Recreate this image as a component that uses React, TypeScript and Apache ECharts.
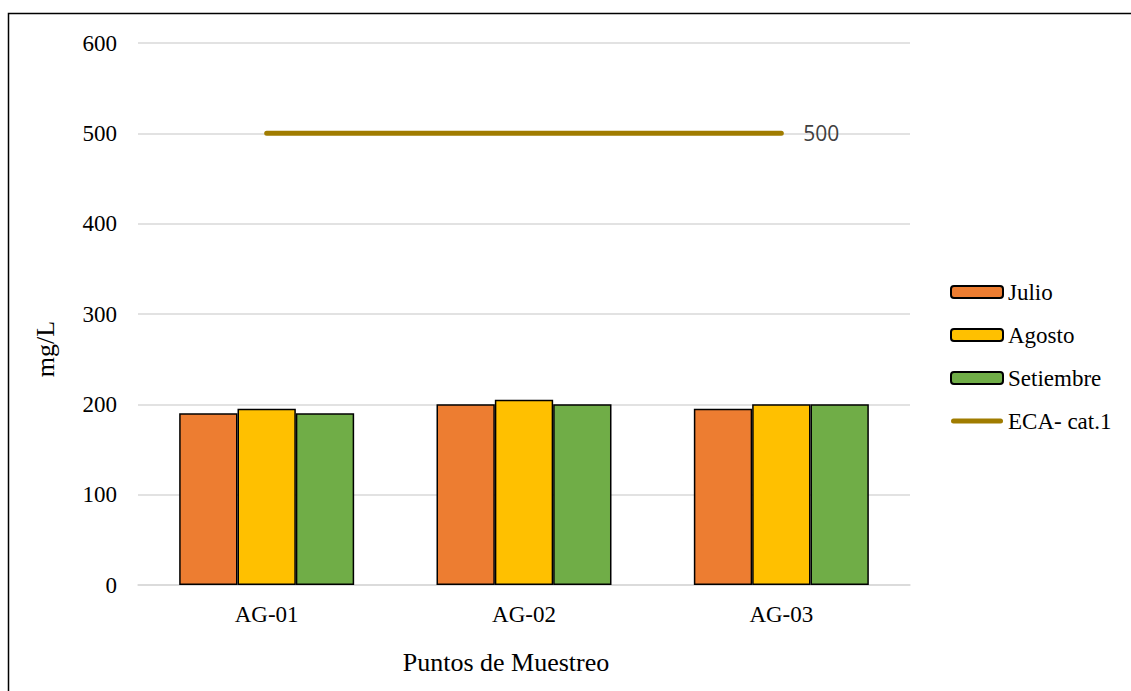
import React, { useEffect, useRef } from "react";
import * as echarts from "echarts";

const categories = ["AG-01", "AG-02", "AG-03"];
const julio = [190, 200, 195];
const agosto = [195, 205, 200];
const setiembre = [190, 200, 200];
const eca = [500, 500, 500];

const serif = "'Liberation Serif', 'Times New Roman', serif";
const ecaColor = "#A07C00";

export default function App() {
  const ref = useRef<HTMLDivElement>(null);
  useEffect(() => {
    if (!ref.current) return;
    const chart = echarts.init(ref.current, null, { renderer: "svg" });
    const barStyle = (color: string) => ({ color, borderColor: "#000", borderWidth: 1.5 });
    chart.setOption({
      animation: false,
      backgroundColor: "#fff",
      grid: { left: 138, right: 221, top: 43, bottom: 106 },
      legend: {
        orient: "vertical",
        left: 950,
        top: 280,
        padding: 0,
        itemWidth: 52,
        itemHeight: 12,
        itemGap: 19,
        symbolKeepAspect: true,
        textStyle: { fontFamily: serif, fontSize: 23, color: "#000", lineHeight: 24 },
        data: [
          "Julio",
          "Agosto",
          "Setiembre",
          {
            name: "ECA- cat.1",
            icon: "path://M2.5,0 L49.5,0 A2.5,2.5 0 0 1 49.5,5 L2.5,5 A2.5,2.5 0 0 1 2.5,0 Z",
            itemStyle: { color: ecaColor, borderWidth: 0 },
          },
        ],
      },
      xAxis: {
        type: "category",
        data: categories,
        axisLine: { lineStyle: { color: "#d9d9d9", width: 1.5 } },
        axisTick: { show: false },
        axisLabel: { fontFamily: serif, fontSize: 23, color: "#000", margin: 18 },
      },
      yAxis: {
        type: "value",
        min: 0,
        max: 600,
        interval: 100,
        axisLine: { show: false },
        axisTick: { show: false },
        splitLine: { lineStyle: { color: "#d9d9d9", width: 1.5 } },
        axisLabel: { fontFamily: serif, fontSize: 23, color: "#000", margin: 21 },
      },
      series: [
        { name: "Julio", type: "bar", data: julio, barGap: "0%", barCategoryGap: "32%", itemStyle: barStyle("#ED7D31") },
        { name: "Agosto", type: "bar", data: agosto, itemStyle: barStyle("#FFC000") },
        { name: "Setiembre", type: "bar", data: setiembre, itemStyle: barStyle("#70AD47") },
        {
          name: "ECA- cat.1",
          type: "line",
          symbol: "none",
          showSymbol: false,
          itemStyle: { color: ecaColor },
          lineStyle: { color: ecaColor, width: 5, cap: "round" },
          endLabel: {
            show: true,
            formatter: "{c}",
            distance: 22,
            fontFamily: "'Open Sans', sans-serif",
            fontSize: 21,
            color: "#404040",
          },
          data: eca,
        },
      ],
      graphic: [
        {
          type: "rect",
          shape: { x: 8.5, y: 13.5, width: 1300, height: 1000 },
          style: { fill: "none", stroke: "#000", lineWidth: 1.5 },
          silent: true,
        },
        {
          type: "text",
          x: 45,
          y: 349,
          rotation: Math.PI / 2,
          style: { text: "mg/L", font: `26px ${serif}`, fill: "#000", align: "center", verticalAlign: "middle" },
        },
        {
          type: "text",
          x: 506,
          y: 662,
          style: { text: "Puntos de Muestreo", font: `26px ${serif}`, fill: "#000", align: "center", verticalAlign: "middle" },
        },
      ],
    });
    return () => chart.dispose();
  }, []);
  return <div ref={ref} style={{ position: "absolute", left: 0, top: 0, width: 1131, height: 691 }} />;
}
